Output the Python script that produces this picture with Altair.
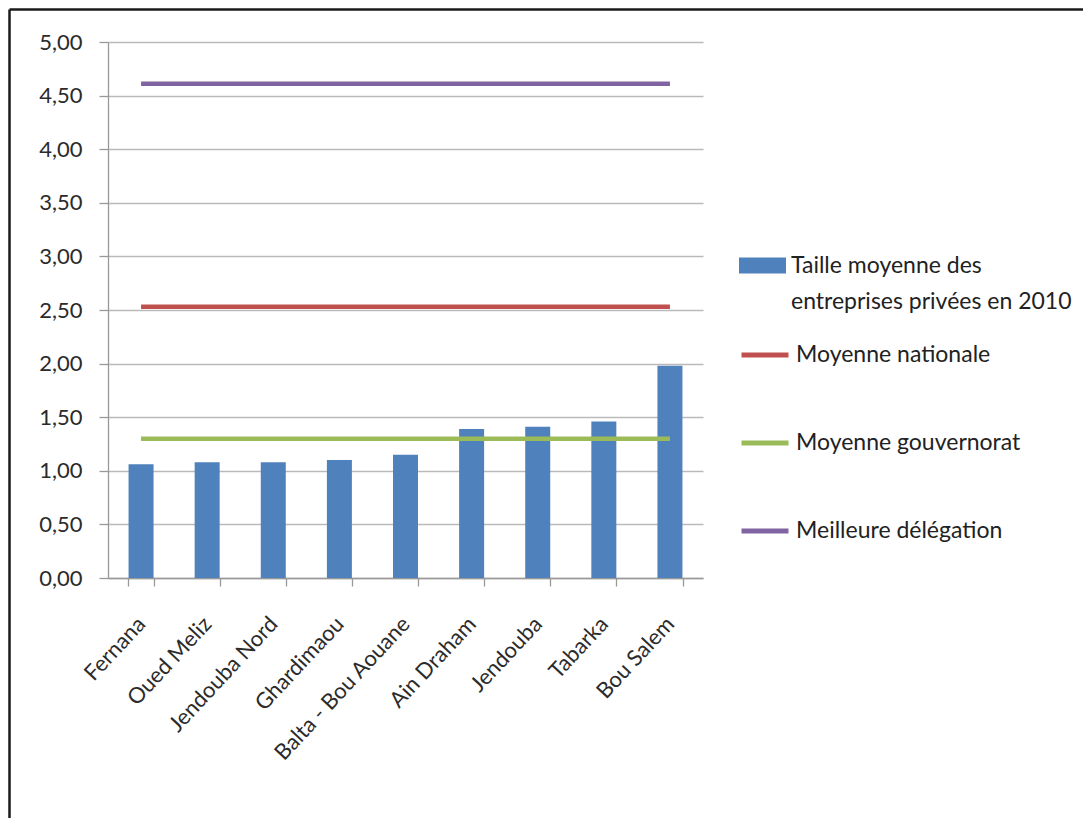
import altair as alt
import pandas as pd

categories = ["Fernana", "Oued Meliz", "Jendouba Nord", "Ghardimaou",
              "Balta - Bou Aouane", "Ain Draham", "Jendouba", "Tabarka", "Bou Salem"]
taille = [1.06, 1.08, 1.08, 1.10, 1.15, 1.39, 1.41, 1.46, 1.98]

bar_series = "Taille moyenne des entreprises privées en 2010"
line_series = ["Moyenne nationale", "Moyenne gouvernorat", "Meilleure délégation"]
line_values = [2.53, 1.30, 4.61]
line_colors = ["#C0504D", "#9BBB59", "#8064A2"]
bar_color = "#4F81BD"
y_ticks = [0, 0.5, 1, 1.5, 2, 2.5, 3, 3.5, 4, 4.5, 5]

FONT = "Lato"
W, H = 595, 536
LEFT, TOP = 108, 42

bars_df = pd.DataFrame({"cat": categories, "val": taille, "serie": bar_series})
lines_df = pd.DataFrame([
    {"cat": c, "val": v, "serie": s}
    for s, v in zip(line_series, line_values) for c in categories
])

x_enc = alt.X(
    "cat:N", sort=categories,
    scale=alt.Scale(paddingInner=0.62, paddingOuter=0.31),
    axis=alt.Axis(
        title=None, labelAngle=-47, labelAlign="right", labelBaseline="middle",
        labelFont=FONT, labelFontSize=22, labelColor="#2b2b2b", labelPadding=34,
        labelLimit=400,
        tickBand="extent", tickSize=8, tickColor="#999999", domainColor="#999999",
        domainWidth=1.3, tickWidth=1.3, grid=False, labelOverlap=False,
    ),
)
y_scale = alt.Scale(domain=[0, 5], nice=False)
y_axis = alt.Axis(
    title=None, values=y_ticks,
    labelExpr="replace(format(datum.value, '.2f'), '.', ',')",
    labelFont=FONT, labelFontSize=22, labelColor="#2b2b2b", labelPadding=17,
    tickSize=9, tickColor="#999999", domainColor="#999999", domainWidth=1.3, tickWidth=1.3,
    grid=True, gridColor="#bababa", gridWidth=1.3,
)

bars = alt.Chart(bars_df).mark_bar(size=25).encode(
    x=x_enc,
    y=alt.Y("val:Q", scale=y_scale, axis=y_axis),
    fill=alt.Fill(
        "serie:N",
        scale=alt.Scale(domain=[bar_series], range=[bar_color]),
        legend=alt.Legend(
            title=None, orient="none", legendX=631, legendY=200,
            symbolType="M-1,-0.34H1V0.34H-1Z", symbolSize=2209, symbolStrokeWidth=0,
            labelFont=FONT, labelFontSize=23, labelColor="#222222", labelOffset=5,
            labelLimit=400,
            labelExpr="datum.label == '" + bar_series + "' ? ['Taille moyenne des', 'entreprises privées en 2010'] : datum.label",
        ),
    ),
)

lines = alt.Chart(lines_df).mark_line(strokeWidth=4.5).encode(
    x=alt.X("cat:N", sort=categories),
    y=alt.Y("val:Q", scale=y_scale),
    stroke=alt.Stroke(
        "serie:N",
        scale=alt.Scale(domain=line_series, range=line_colors),
        legend=alt.Legend(
            title=None, orient="none", legendX=631, legendY=287,
            symbolType="stroke", symbolSize=2209, symbolStrokeWidth=5,
            labelFont=FONT, labelFontSize=23, labelColor="#222222", labelOffset=5,
            rowPadding=50, labelLimit=400,
        ),
    ),
)

frame = alt.Data(values=[{"k": 1}])
border_top = alt.Chart(frame).mark_rule(color="#1a1a1a", strokeWidth=2.5).encode(
    x=alt.value(9.5 - LEFT), x2=alt.value(1083 - LEFT), y=alt.value(9.5 - TOP)
)
border_left = alt.Chart(frame).mark_rule(color="#1a1a1a", strokeWidth=2.5).encode(
    x=alt.value(9.5 - LEFT), y=alt.value(9.5 - TOP), y2=alt.value(818 - TOP)
)

chart = alt.layer(bars, lines, border_top, border_left).resolve_scale(
    fill="independent", stroke="independent"
).properties(
    width=W, height=H,
    autosize=alt.AutoSizeParams(type="none"),
    padding={"left": LEFT, "top": TOP, "right": 1083 - LEFT - W, "bottom": 818 - TOP - H},
    background="white",
).configure(
    style={"guide-label": {"lineHeight": 36}}
).configure_view(stroke=None)

chart.save("out.html", embed_options={"renderer": "svg", "actions": False})
